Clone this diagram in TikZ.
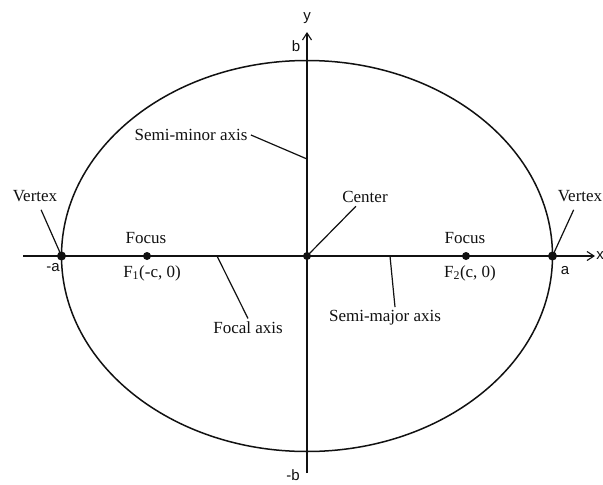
\documentclass[tikz,border=0pt]{standalone}
\usepackage{fontspec}
\setmainfont{Liberation Serif}
\setsansfont{Liberation Sans}
\usetikzlibrary{arrows.meta,positioning}
\definecolor{eink}{HTML}{111111}
\definecolor{epaper}{HTML}{FFFFFF}

\begin{document}
\begin{tikzpicture}[x=1pt,y=-1pt,
    every node/.style={font=\fontsize{17}{19}\selectfont,text=eink},
    sym/.style={font=\sffamily\fontsize{15}{17}\selectfont},
    lead/.style={eink,line width=1.2pt},
    axis/.style={eink,line width=1.5pt,-{Straight Barb[length=7pt,width=9pt,line width=1.1pt]}}]
  \fill[epaper] (0,0) rectangle (603,485);
  \useasboundingbox (0,0) rectangle (603,485);

  % points on the focal axis
  \coordinate (O)  at (307,256);
  \coordinate (V1) at (61.5,256);
  \coordinate (V2) at (552.5,256);
  \coordinate (F1) at (147,256);
  \coordinate (F2) at (466,256);
  \coordinate (xs) at (23,256);
  \coordinate (xe) at (595,256);
  \coordinate (ys) at (307,473);
  \coordinate (ye) at (307,32);

  \draw[eink,line width=1.5pt] (O) ellipse [x radius=245.5pt,y radius=195.5pt];
  \draw[axis] (xs) -- (xe);
  \draw[axis] (ys) -- (ye);

  \fill[eink] (V1) circle (4.5pt);
  \fill[eink] (V2) circle (4.5pt);
  \fill[eink] (O)  circle (4pt);
  \fill[eink] (F1) circle (4pt);
  \fill[eink] (F2) circle (4pt);

  % axis letters
  \node[sym] (xl) at (600,256) {x};
  \node[sym] (yl) at (307,18)  {y};
  \node[sym] (bp) at (296,46)  {b};
  \node[sym] (bm) at (293,475) {-b};
  \node[sym] (am) at (53,268)  {-a};
  \node[sym] (ap) at (565,271) {a};

  % labels
  \node (vtxl) at (35,196)  {Vertex};
  \node (vtxr) at (580,196) {Vertex};
  \node (foc1) at (146,238) {Focus};
  \node (foc2) at (465,238) {Focus};
  \node (f1l)  at (152,273) {F\textsubscript{1}(-c, 0)};
  \node (f2l)  at (470,273) {F\textsubscript{2}(c, 0)};
  \node (cen)  at (365,197) {Center};
  \node (smn)  at (191,135) {Semi-minor axis};
  \node (fal)  at (248,328) {Focal axis};
  \node (smj)  at (385,318) {Semi-major axis};

  \coordinate (smin) at (307,159);
  \coordinate (fax)  at (217,256);
  \coordinate (smaj) at (390,256);

  \draw[lead,shorten <=5pt] (vtxl) -- (V1);
  \draw[lead,shorten <=5pt] (vtxr) -- (V2);
  \draw[lead] (cen) -- (O);
  \draw[lead] (smn.east) -- (smin);
  \draw[lead] (fal.north) -- (fax);
  \draw[lead] ([xshift=10pt]smj.north) -- (smaj);
\end{tikzpicture}
\end{document}
